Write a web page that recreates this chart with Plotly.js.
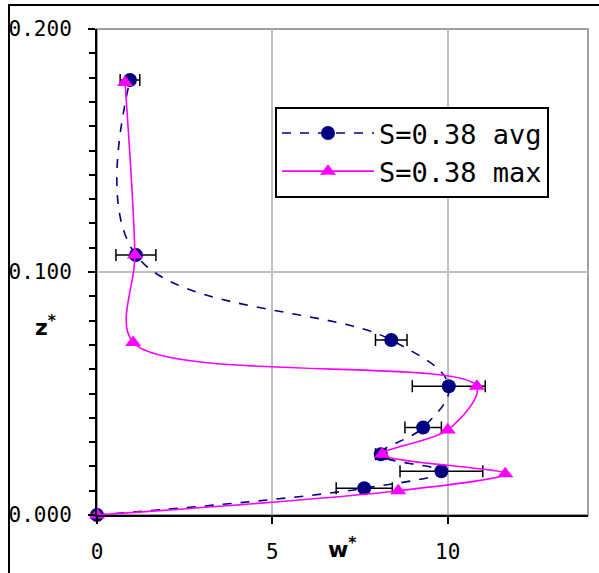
<!DOCTYPE html>
<html>
<head>
<meta charset="utf-8">
<script src="https://cdn.plot.ly/plotly-3.0.1.min.js"></script>
<style>html,body{margin:0;padding:0;background:#fff;}#chart{width:599px;height:573px;}</style>
</head>
<body>
<div id="chart"></div>
<script>
// S=0.38 avg (navy circles, dashed)
const wAvg    = [0, 7.62, 9.82, 8.09, 9.30, 10.03, 8.39, 1.11, 0.94];
const zAvg    = [0, 0.011, 0.018, 0.025, 0.036, 0.053, 0.072, 0.107, 0.179];
const errAvg  = [0, 0.80, 1.18, 0.15, 0.52, 1.04, 0.45, 0.57, 0.28];
// S=0.38 max (magenta triangles, solid)
const wMax    = [0, 8.59, 11.64, 8.13, 10.00, 10.83, 1.03, 1.08, 0.80];
const zMax    = [0, 0.010, 0.017, 0.025, 0.035, 0.053, 0.071, 0.107, 0.178];
const seriesNames = ["S=0.38 avg", "S=0.38 max"];
const xTicks = [0, 5, 10];
const yTicks = [0, 0.1, 0.2];

const mono = "DejaVu Sans Mono, monospace";

const traces = [
  {
    x: wAvg, y: zAvg, name: seriesNames[0], type: "scatter", mode: "lines+markers",
    line: {color: "#000080", width: 1.6, dash: "dash", shape: "spline", smoothing: 1.1},
    marker: {color: "#000080", symbol: "circle", size: 14},
    error_x: {type: "data", array: errAvg, visible: true, color: "#000000", thickness: 1.5, width: 6},
    cliponaxis: false
  },
  {
    x: wMax, y: zMax, name: seriesNames[1], type: "scatter", mode: "lines+markers",
    line: {color: "#ff00ff", width: 1.6, shape: "spline", smoothing: 0.9},
    marker: {color: "#ff00ff", symbol: "triangle-up", size: 14},
    cliponaxis: false
  }
];

const L = 97, R = 11, T = 29, B = 58, W = 599, H = 573;
const pw = W - L - R, ph = H - T - B;
const px = v => (v - L) / pw;
const py = v => (H - B - v) / ph;

const layout = {
  width: W, height: H,
  margin: {l: L, r: R, t: T, b: B, pad: 0},
  paper_bgcolor: "#ffffff", plot_bgcolor: "#ffffff",
  showlegend: true,
  legend: {
    x: px(275), y: py(107), xanchor: "left", yanchor: "top",
    bordercolor: "#000000", borderwidth: 2, bgcolor: "#ffffff",
    font: {family: mono, size: 27, color: "#000000"},
    itemwidth: 92, tracegroupgap: 0
  },
  xaxis: {
    range: [0, 14], tickvals: xTicks, ticktext: xTicks.map(String),
    showgrid: true, gridcolor: "#c0c0c0", gridwidth: 2,
    zeroline: false, showline: true, linecolor: "#000000", linewidth: 2,
    ticks: "outside", ticklen: 7, tickwidth: 2, tickcolor: "#000000",
    tickfont: {family: mono, size: 21, color: "#000000"},
    ticklabelstandoff: 10, fixedrange: true
  },
  yaxis: {
    range: [0, 0.2], tickvals: yTicks, ticktext: yTicks.map(v => v.toFixed(3)),
    showgrid: true, gridcolor: "#c0c0c0", gridwidth: 2,
    zeroline: false, showline: true, linecolor: "#000000", linewidth: 2,
    ticks: "outside", ticklen: 7, tickwidth: 2, tickcolor: "#000000",
    minor: {dtick: 0.01, ticks: "outside", ticklen: 6, tickwidth: 2, tickcolor: "#000000", showgrid: false},
    tickfont: {family: mono, size: 21, color: "#000000"},
    ticklabelstandoff: 12, fixedrange: true
  },
  yaxis2: {
    overlaying: "y", side: "left", range: [0, 0.2], tickvals: yTicks,
    showticklabels: false, showgrid: false, zeroline: false, showline: false,
    ticks: "inside", ticklen: 5, tickwidth: 2, tickcolor: "#000000",
    minor: {dtick: 0.01, ticks: "inside", ticklen: 3, tickwidth: 2, tickcolor: "#000000", showgrid: false},
    fixedrange: true
  },
  shapes: [
    {type: "rect", xref: "paper", yref: "paper", x0: 0, x1: 1, y0: 0, y1: 1,
     line: {color: "#a0a0a0", width: 2}, layer: "below"},
    {type: "rect", xref: "paper", yref: "paper", x0: px(9), x1: px(640), y0: py(640), y1: py(5),
     line: {color: "#000000", width: 2}, layer: "below"}
  ],
  annotations: [
    {text: "<b>z<sup>*</sup></b>", xref: "paper", yref: "paper", x: px(45), y: py(326),
     xanchor: "center", yanchor: "middle", showarrow: false,
     font: {family: "DejaVu Sans", size: 22, color: "#000000"}},
    {text: "<b>w<sup>*</sup></b>", xref: "paper", yref: "paper", x: px(342), y: py(548),
     xanchor: "center", yanchor: "middle", showarrow: false,
     font: {family: "DejaVu Sans", size: 22, color: "#000000"}}
  ]
};

Plotly.newPlot("chart", traces, layout, {staticPlot: true, displayModeBar: false});
</script>
</body>
</html>
